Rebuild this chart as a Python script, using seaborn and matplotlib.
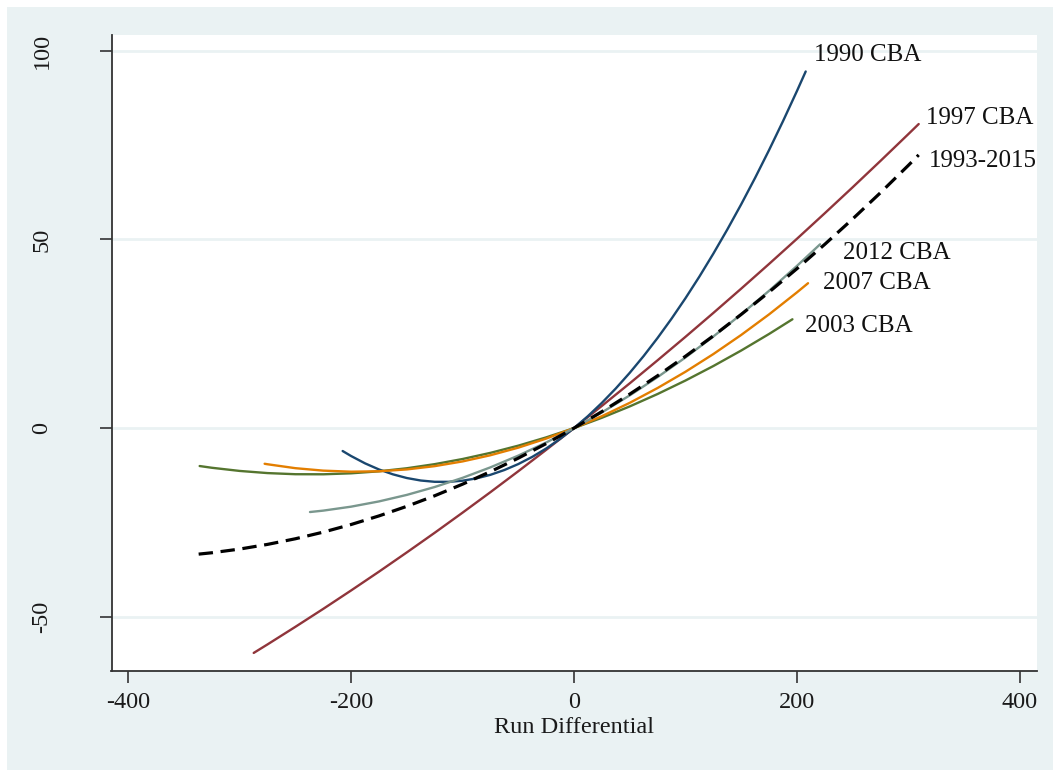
import numpy as np
import pandas as pd
import matplotlib
matplotlib.use("Agg")
import matplotlib.pyplot as plt
import seaborn as sns
from matplotlib.patches import Rectangle

# ---- data ----
x_1990 = [-207.6, -200, -187.5, -175, -162.5, -150, -137.5, -125, -112.5, -100, -87.5, -75, -62.5, -50, -37.5, -25, -12.5,
          0, 12.5, 25, 37.5, 50, 62.5, 75, 87.5, 100, 112.5, 125, 137.5, 150, 162.5, 175, 187.5, 200, 207.9]
y_1990 = [-6.07, -7.40, -9.34, -10.96, -12.25, -13.23, -13.89, -14.23, -14.24, -13.94, -13.32, -12.38, -11.11, -9.53, -7.63, -5.41, -2.86,
          0, 3.18, 6.69, 10.51, 14.65, 19.11, 23.90, 29.00, 34.42, 40.16, 46.23, 52.61, 59.31, 66.33, 73.68, 81.34, 89.32, 94.53]

x_1997 = [-287.4, -275, -250, -225, -200, -175, -150, -125, -100, -75, -50, -25, 0, 25, 50, 75, 100, 125, 150, 175, 200, 225, 250, 275, 300, 309.3]
y_1997 = [-59.59, -57.33, -52.67, -47.91, -43.03, -38.05, -32.94, -27.74, -22.41, -16.98, -11.43, -5.77, 0, 5.89, 11.87, 17.98, 24.19, 30.52, 36.96, 43.51, 50.17, 56.95, 63.83, 70.83, 77.93, 80.6]

x_all = [-336.8, -325, -300, -275, -250, -225, -200, -175, -150, -125, -100, -75, -50, -25, 0, 25, 50, 75, 100, 125, 150, 175, 200, 225, 250, 275, 300, 309.3]
y_all = [-33.40, -33.04, -32.06, -30.82, -29.33, -27.57, -25.55, -23.27, -20.73, -17.93, -14.86, -11.54, -7.96, -4.11, 0, 4.37, 9.00, 13.88, 19.04, 24.45, 30.13, 36.05, 42.25, 48.71, 55.43, 62.40, 69.64, 72.41]

x_2012 = [-236.9, -225, -200, -175, -150, -125, -100, -75, -50, -25, 0, 25, 50, 75, 100, 125, 150, 175, 200, 220.8]
y_2012 = [-22.24, -21.87, -20.82, -19.43, -17.70, -15.61, -13.18, -10.40, -7.29, -3.82, 0, 4.16, 8.67, 13.52, 18.72, 24.27, 30.16, 36.39, 42.98, 48.72]

x_2007 = [-277.6, -275, -250, -225, -200, -175, -150, -125, -100, -75, -50, -25, 0, 25, 50, 75, 100, 125, 150, 175, 200, 210]
y_2007 = [-9.45, -9.58, -10.62, -11.27, -11.55, -11.44, -10.95, -10.08, -8.83, -7.19, -5.18, -2.78, 0, 3.16, 6.70, 10.63, 14.93, 19.62, 24.69, 30.14, 35.97, 38.41]

x_2003 = [-335.9, -325, -300, -275, -250, -225, -200, -175, -150, -125, -100, -75, -50, -25, 0, 25, 50, 75, 100, 125, 150, 175, 196]
y_2003 = [-10.05, -10.51, -11.35, -11.92, -12.22, -12.24, -11.98, -11.45, -10.64, -9.55, -8.19, -6.56, -4.65, -2.46, 0, 2.74, 5.75, 9.04, 12.61, 16.45, 20.56, 24.95, 28.85]

series_names = ["1997 CBA", "1990 CBA", "2003 CBA", "2007 CBA", "2012 CBA", "1993-2015"]
series_x = [x_1997, x_1990, x_2003, x_2007, x_2012, x_all]
series_y = [y_1997, y_1990, y_2003, y_2007, y_2012, y_all]
series_colors = ["#90353b", "#1a476f", "#55752f", "#e37e00", "#7a978e", "#000000"]

label_text = ["1990 CBA", "1997 CBA", "1993-2015", "2012 CBA", "2007 CBA", "2003 CBA"]
label_x = [215.4, 315.5, 318.6, 241.4, 223.8, 207.0]
label_y = [98.9, 82.2, 70.8, 46.5, 38.4, 27.1]

x_ticks = [-400, -200, 0, 200, 400]
y_ticks = [-50, 0, 50, 100]

# ---- style ----
sns.set_theme(style="white")
plt.rcParams['font.family'] = ['Liberation Serif', 'DejaVu Serif']
plt.rcParams['axes.unicode_minus'] = False

W, H = 1053, 770
fig = plt.figure(figsize=(W / 100, H / 100), dpi=100, facecolor='white')
fig.patches.append(Rectangle((7 / W, 0), 1 - 7 / W, 1 - 7 / H, transform=fig.transFigure,
                             facecolor='#EAF2F3', edgecolor='none', zorder=-10))

left, right, top, bottom = 111.5, 1036.5, 35, 670.7
ax = fig.add_axes([left / W, 1 - bottom / H, (right - left) / W, (bottom - top) / H])
ax.set_facecolor('white')

for name, xs, ys, col in zip(series_names, series_x, series_y, series_colors):
    df = pd.DataFrame({"x": xs, "y": ys})
    if name == "1993-2015":
        sns.lineplot(data=df, x="x", y="y", ax=ax, color=col, lw=2.3, sort=False,
                     estimator=None, linestyle=(0, (4.5, 2.4)))
    else:
        sns.lineplot(data=df, x="x", y="y", ax=ax, color=col, lw=1.7, sort=False,
                     estimator=None, solid_joinstyle='round')

for t, lx, ly in zip(label_text, label_x, label_y):
    ax.text(lx, ly, t, ha='left', va='center', fontsize=18, color='#111111')

ax.set_xlim(-415, 415)
ax.set_ylim(-64.3, 104.2)
ax.set_xticks(x_ticks)
ax.set_yticks(y_ticks)
ax.set_xticklabels([str(v) for v in x_ticks])
ax.set_yticklabels([str(v) for v in y_ticks], rotation=90, va='center')
ax.grid(axis='y', color='#EAF2F3', lw=2)
ax.grid(axis='x', visible=False)
ax.set_axisbelow(True)

for s in ['top', 'right']:
    ax.spines[s].set_visible(False)
for s in ['left', 'bottom']:
    ax.spines[s].set_color('#333333')
    ax.spines[s].set_linewidth(1.3)

ax.tick_params(axis='both', direction='out', length=8.5, width=1.2, color='#333333',
               labelsize=17.5, labelcolor='#1a1a1a', left=True, bottom=True)
ax.tick_params(axis='y', pad=34)
ax.tick_params(axis='x', pad=7)
ax.set_xlabel("Run Differential", fontsize=17.5, color='#1a1a1a', labelpad=3)
ax.set_ylabel("")

fig.savefig("out.png", dpi=100, facecolor=fig.get_facecolor())
